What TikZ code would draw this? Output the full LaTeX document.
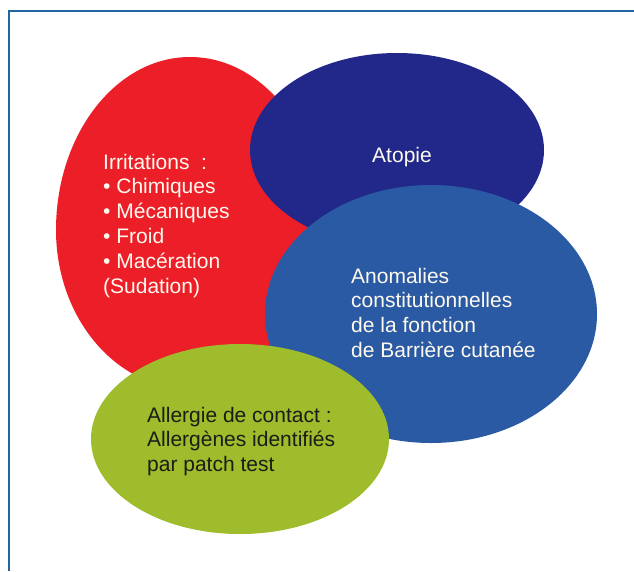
\documentclass[tikz,border=0pt]{standalone}
\usepackage{fontspec}
\setmainfont{Liberation Sans}
\usetikzlibrary{shapes.geometric}
\definecolor{irritred}{RGB}{236,30,40}
\definecolor{atopblue}{RGB}{33,40,138}
\definecolor{barrblue}{RGB}{42,90,163}
\definecolor{allergreen}{RGB}{158,188,44}
\definecolor{framebl}{RGB}{35,100,165}
\definecolor{paletxt}{RGB}{255,250,240}
\definecolor{darktxt}{RGB}{28,28,24}

\begin{document}
\begin{tikzpicture}[x=1pt,y=-1pt,
  every node/.style={font=\fontsize{21pt}{24.8pt}\selectfont},
  blob/.style={ellipse,inner sep=0pt,draw=none},
  txt/.style={align=left,anchor=base west,inner sep=0pt}]
  \useasboundingbox (0,0) rectangle (634,571);
  \fill[white] (0,0) rectangle (634,571);
  \draw[line width=1.6pt,framebl] (634,11) -| (9,571);
  % egg shaped red blob: taller half on top
  \fill[irritred] (56,230) arc[start angle=180,end angle=360,x radius=134,y radius=173]
    arc[start angle=0,end angle=180,x radius=134,y radius=159];
  \node[blob,fill=atopblue,minimum width=294pt,minimum height=194pt] (ato) at (397,150) {};
  \node[blob,fill=barrblue,minimum width=332pt,minimum height=258pt] (barr) at (431,314) {};
  \node[blob,fill=allergreen,minimum width=298pt,minimum height=190pt] (allerg) at (240,439) {};
  % base anchor sits on the last line
  \node[txt,text=paletxt] (irrtxt) at (103,293)
    {Irritations~~:\\• Chimiques\\• Mécaniques\\• Froid\\• Macération\\(Sudation)};
  \node[anchor=base,inner sep=0pt,text=paletxt] (atotxt) at (402,162) {Atopie};
  \node[txt,text=paletxt] (barrtxt) at (351,357.4)
    {Anomalies\\constitutionnelles\\de la fonction\\de Barrière cutanée};
  \node[txt,text=darktxt] (allergtxt) at (147,471.6)
    {Allergie de contact :\\Allergènes identifiés\\par patch test};
\end{tikzpicture}
\end{document}
